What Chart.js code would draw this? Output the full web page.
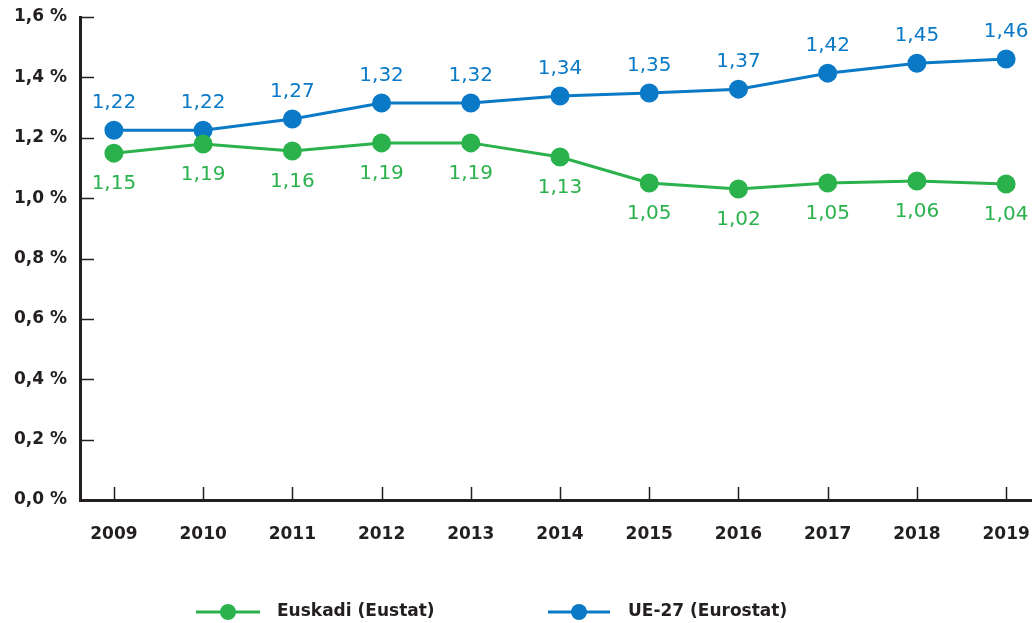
<!DOCTYPE html>
<html>
<head>
<meta charset="utf-8">
<script src="https://cdn.jsdelivr.net/npm/chart.js@4"></script>
<style>
  body { margin: 0; background: #fff; }
  canvas { display: block; }
</style>
</head>
<body>
<canvas id="myChart" width="1032" height="623"></canvas>
<script>
// Data
const years = [2009, 2010, 2011, 2012, 2013, 2014, 2015, 2016, 2017, 2018, 2019]
const euskadi = [1.149, 1.179, 1.156, 1.183, 1.183, 1.136, 1.050, 1.030, 1.050, 1.057, 1.047]
const ue27 = [1.225, 1.225, 1.262, 1.315, 1.315, 1.338, 1.348, 1.361, 1.414, 1.447, 1.461]
const euskadiLabels = ['1,15', '1,19', '1,16', '1,19', '1,19', '1,13', '1,05', '1,02', '1,05', '1,06', '1,04']
const ue27Labels = ['1,22', '1,22', '1,27', '1,32', '1,32', '1,34', '1,35', '1,37', '1,42', '1,45', '1,46']
const yTicks = [0, 0.2, 0.4, 0.6, 0.8, 1.0, 1.2, 1.4, 1.6]

const green = '#2bb24c'
const blue = '#0a79c6'
const dark = '#231f20'

// draw the small inside tick marks
const tickMarks = {
    id: 'tickMarks',
    afterDraw(chart) {
        const ctx = chart.ctx
        const area = chart.chartArea
        const x = chart.scales.x
        const y = chart.scales.y
        ctx.save()
        ctx.strokeStyle = dark
        ctx.lineWidth = 1.5
        y.ticks.forEach(t => {
            if (t.value === 0) return
            const py = Math.round(y.getPixelForValue(t.value)) + 0.5
            ctx.beginPath()
            ctx.moveTo(area.left, py)
            ctx.lineTo(area.left + 14, py)
            ctx.stroke()
        })
        x.ticks.forEach(t => {
            const px = Math.round(x.getPixelForValue(t.value)) + 0.5
            ctx.beginPath()
            ctx.moveTo(px, area.bottom)
            ctx.lineTo(px, area.bottom - 13)
            ctx.stroke()
        })
        ctx.restore()
    }
}

// value labels above / below points
const valueLabels = {
    id: 'valueLabels',
    afterDatasetsDraw(chart) {
        const ctx = chart.ctx
        ctx.save()
        ctx.font = '20px "DejaVu Sans"'
        ctx.textAlign = 'center'
        ctx.textBaseline = 'middle'
        chart.data.datasets.forEach((ds, di) => {
            const meta = chart.getDatasetMeta(di)
            ctx.fillStyle = ds.borderColor
            meta.data.forEach((pt, i) => {
                ctx.fillText(ds.valueText[i], pt.x, pt.y + ds.labelShift)
            })
        })
        ctx.restore()
    }
}

// legend at the bottom
const bottomLegend = {
    id: 'bottomLegend',
    afterDraw(chart) {
        const ctx = chart.ctx
        const items = [
            { ds: chart.data.datasets[0], x0: 196, x1: 260, tx: 277 },
            { ds: chart.data.datasets[1], x0: 548, x1: 610, tx: 628 }
        ]
        const ly = 612
        ctx.save()
        items.forEach(it => {
            ctx.strokeStyle = it.ds.borderColor
            ctx.fillStyle = it.ds.borderColor
            ctx.lineWidth = 3
            ctx.beginPath()
            ctx.moveTo(it.x0, ly)
            ctx.lineTo(it.x1, ly)
            ctx.stroke()
            ctx.beginPath()
            ctx.arc((it.x0 + it.x1) / 2, ly, 8, 0, Math.PI * 2)
            ctx.fill()
            ctx.fillStyle = dark
            ctx.font = 'bold 17px "DejaVu Sans"'
            ctx.textAlign = 'left'
            ctx.textBaseline = 'middle'
            ctx.fillText(it.ds.label, it.tx, ly)
        })
        ctx.restore()
    }
}

const myChart = new Chart(document.getElementById('myChart'), {
    type: 'line',
    data: {
        datasets: [
            {
                label: 'Euskadi (Eustat)',
                data: years.map((yr, i) => ({ x: yr, y: euskadi[i] })),
                borderColor: green,
                backgroundColor: green,
                borderWidth: 3,
                pointRadius: 8,
                pointHoverRadius: 8,
                tension: 0,
                valueText: euskadiLabels,
                labelShift: 31
            },
            {
                label: 'UE-27 (Eurostat)',
                data: years.map((yr, i) => ({ x: yr, y: ue27[i] })),
                borderColor: blue,
                backgroundColor: blue,
                borderWidth: 3,
                pointRadius: 8,
                pointHoverRadius: 8,
                tension: 0,
                valueText: ue27Labels,
                labelShift: -27
            }
        ]
    },
    options: {
        responsive: false,
        animation: false,
        layout: { autoPadding: false, padding: { top: 17, right: 0, left: 0, bottom: 0 } },
        plugins: {
            legend: { display: false },
            tooltip: { enabled: false }
        },
        scales: {
            x: {
                type: 'linear',
                min: 2008.62,
                max: 2019.29,
                afterBuildTicks: scale => { scale.ticks = years.map(v => ({ value: v })) },
                afterFit: scale => {
                    scale.height = 123
                    scale.paddingLeft = 0
                    scale.paddingRight = 0
                },
                grid: { display: false, drawTicks: false },
                border: { display: true, color: dark, width: 3 },
                ticks: {
                    padding: 24,
                    color: dark,
                    font: { family: 'DejaVu Sans', size: 17, weight: 'bold' },
                    callback: v => String(v)
                }
            },
            y: {
                min: 0,
                max: 1.6,
                afterBuildTicks: scale => { scale.ticks = yTicks.map(v => ({ value: v })) },
                afterFit: scale => {
                    scale.width = 80
                    scale.paddingTop = 0
                    scale.paddingBottom = 0
                },
                grid: { display: false, drawTicks: false },
                border: { display: true, color: dark, width: 3 },
                ticks: {
                    padding: 13,
                    color: dark,
                    font: { family: 'DejaVu Sans', size: 17, weight: 'bold' },
                    callback: v => v.toFixed(1).replace('.', ',') + ' %'
                }
            }
        }
    },
    plugins: [tickMarks, valueLabels, bottomLegend]
});
</script>
</body>
</html>
